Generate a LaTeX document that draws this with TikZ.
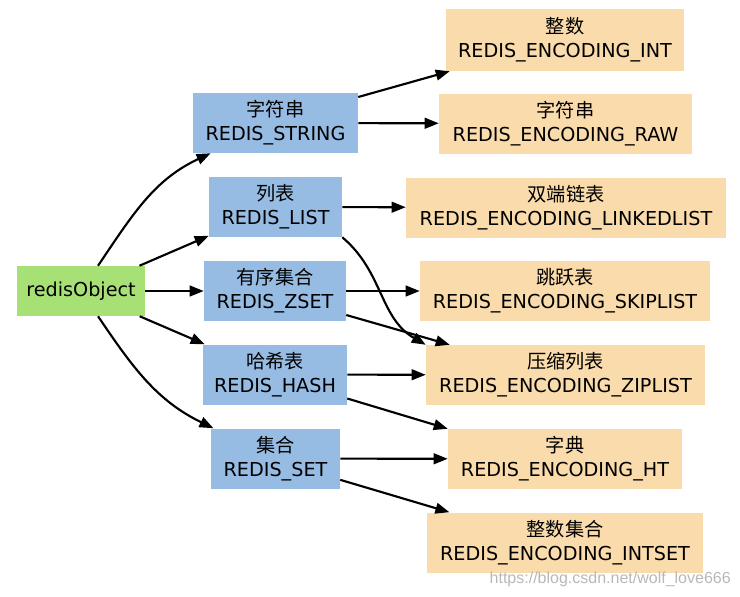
\documentclass[tikz,border=0pt]{standalone}
\usepackage{fontspec}
\setmainfont{DejaVu Sans}
\newfontfamily\cjk{Noto Sans CJK SC}
\newfontfamily\wmfont{Liberation Sans}
\usetikzlibrary{arrows.meta}
\definecolor{objgreen}{RGB}{167,225,117}
\definecolor{typeblue}{RGB}{151,188,227}
\definecolor{encorange}{RGB}{250,219,171}
\begin{document}
\begin{tikzpicture}[x=0.75pt,y=0.75pt,
  basebox/.style={draw=none,inner sep=0pt,align=center,
    font=\fontsize{14.4}{18}\selectfont},
  objbox/.style={basebox,fill=objgreen,minimum height=37.5pt},
  typebox/.style={basebox,fill=typeblue,minimum height=45pt},
  encbox/.style={basebox,fill=encorange,minimum height=45pt},
  conn/.style={-{Triangle[length=10.5pt,width=8pt]},line width=1.6pt,black}]
\useasboundingbox (0,0) rectangle (740,-597);
% source
\node[objbox,minimum width=96pt] (obj) at (81,-291) {redisObject};
% types
\node[typebox,minimum width=123.75pt] (str) at (275.5,-123) {{\cjk 字符串}\\REDIS\_STRING};
\node[typebox,minimum width=99.75pt] (list) at (275.5,-207) {{\cjk 列表}\\REDIS\_LIST};
\node[typebox,minimum width=106.5pt] (zset) at (275,-291) {{\cjk 有序集合}\\REDIS\_ZSET};
\node[typebox,minimum width=108pt] (hash) at (275,-374.5) {{\cjk 哈希表}\\REDIS\_HASH};
\node[typebox,minimum width=96.75pt] (set) at (275.5,-458.5) {{\cjk 集合}\\REDIS\_SET};
% encodings
\node[encbox,minimum width=178.5pt,minimum height=46.5pt] (int) at (565,-40) {{\cjk 整数}\\REDIS\_ENCODING\_INT};
\node[encbox,minimum width=189.75pt] (raw) at (565.5,-123.5) {{\cjk 字符串}\\REDIS\_ENCODING\_RAW};
\node[encbox,minimum width=240pt] (linked) at (566,-207.5) {{\cjk 双端链表}\\REDIS\_ENCODING\_LINKEDLIST};
\node[encbox,minimum width=217.5pt] (skip) at (565,-291) {{\cjk 跳跃表}\\REDIS\_ENCODING\_SKIPLIST};
\node[encbox,minimum width=209.25pt] (zip) at (565.5,-375) {{\cjk 压缩列表}\\REDIS\_ENCODING\_ZIPLIST};
\node[encbox,minimum width=175.5pt] (ht) at (565,-459) {{\cjk 字典}\\REDIS\_ENCODING\_HT};
\node[encbox,minimum width=207pt] (intset) at (565,-542.5) {{\cjk 整数集合}\\REDIS\_ENCODING\_INTSET};
% watermark
\node[anchor=east,inner sep=0pt,text=black!28,font=\wmfont\fontsize{12}{12}\selectfont] (wm) at (731,-579) {https://blog.csdn.net/wolf\_love666};
% connectors from redisObject
\draw[conn] (obj) to[out=56,in=205] (str);
\draw[conn] (obj) -- (list);
\draw[conn] (obj) -- (zset);
\draw[conn] (obj) -- (hash);
\draw[conn] (obj) to[out=-56,in=154] (set);
% connectors to encodings
\draw[conn] ([yshift=19.5pt]str.east) -- ([xshift=3pt]int.south west);
\draw[conn] (str) -- (raw);
\draw[conn] (list) -- (linked);
\draw[conn] (list.south east) to[out=-40,in=150] (zip.north west);
\draw[conn] (zset) -- (skip);
\draw[conn] ([yshift=-18pt]zset.east) -- ([xshift=18pt]zip.north west);
\draw[conn] (hash) -- (zip);
\draw[conn] ([yshift=-18pt]hash.east) -- (ht.north west);
\draw[conn] (set) -- (ht);
\draw[conn] ([yshift=-16pt]set.east) -- ([xshift=17pt]intset.north west);
\end{tikzpicture}
\end{document}
